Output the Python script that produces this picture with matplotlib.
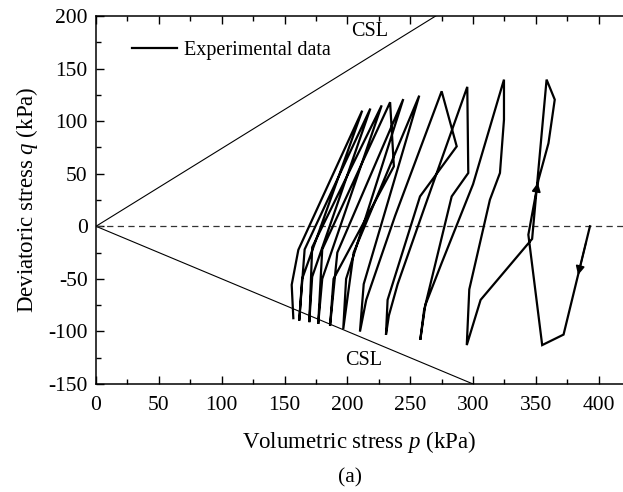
import matplotlib
matplotlib.use("Agg")
import matplotlib.pyplot as plt
import numpy as np
from matplotlib.lines import Line2D
from matplotlib.ticker import MultipleLocator

plt.rcParams['font.family'] = ['Liberation Serif', 'DejaVu Serif']
plt.rcParams['mathtext.fontset'] = 'custom'
plt.rcParams['mathtext.rm'] = 'Liberation Serif'
plt.rcParams['mathtext.it'] = 'Liberation Serif:italic'
plt.rcParams['axes.unicode_minus'] = False

# stress path of the cyclic test (p, q in kPa), in loading order
p_path = [393, 372, 355,
          344, 352, 360, 365, 358.5,
          347, 306, 295,
          297, 313.4, 321.4, 324.6, 324.6,
          300, 275, 262, 258,
          261, 283, 296.2, 295.4,
          262, 240, 233, 230.7,
          232, 257.8, 287, 275,
          238, 215, 210,
          213, 257.2,
          205, 196.7,
          199, 244.5,
          192, 186.2,
          189, 237, 234,
          180, 176.8,
          180, 227.3,
          172, 169.7,
          172, 218.3,
          166, 161.7,
          164, 211.8,
          161, 155.7, 157]
q_path = [0, -103, -113,
          -8, 44, 79, 120.5, 139.5,
          -12, -70, -113,
          -60, 25.2, 50.7, 101.4, 139.5,
          40, -35, -75, -108,
          -80, 28.4, 50.7, 132.6,
          20, -55, -85, -103.3,
          -70, 28.4, 76, 128.4,
          10, -70, -100.2,
          -55, 124.3,
          -25, -97.9,
          -50, 121,
          -25, -94.8,
          -50, 57, 118,
          -22, -92.9,
          -50, 115,
          -20, -91.2,
          -48, 112,
          -22, -89.7,
          -50, 110,
          -22.4, -55.7, -87.4]

# critical state line slopes (compression / extension)
M_comp = 0.74
M_ext = -0.5
p_csl = np.array([0, 420])

fig = plt.figure(figsize=(6.23, 4.92), dpi=100)
ax = fig.add_axes([96/623, 1 - 384/492, 527/623, 368/492])

ax.plot(p_csl, M_comp * p_csl, color='black', lw=0.8)
ax.plot(p_csl, M_ext * p_csl, color='black', lw=0.8)
ax.axhline(0, color='#333333', lw=0.9, ls=(0, (5, 3.5)))
ax.plot(p_path, q_path, color='black', lw=1.6, solid_joinstyle='miter')

# direction arrows on the first two segments of the path
pp = np.array(p_path, dtype=float)
qq = np.array(q_path, dtype=float)
for i, frac in [(0, 0.45), (3, 0.95)]:
    tail = (pp[i] + (frac - 0.3) * (pp[i+1] - pp[i]), qq[i] + (frac - 0.3) * (qq[i+1] - qq[i]))
    tip = (pp[i] + frac * (pp[i+1] - pp[i]), qq[i] + frac * (qq[i+1] - qq[i]))
    ax.annotate('', xy=tip, xytext=tail,
                arrowprops=dict(arrowstyle='-|>', color='black', lw=1.2,
                                mutation_scale=13, shrinkA=0, shrinkB=0))

ax.text(218, 185, 'CSL', fontsize=14.5, ha='center', va='center')
ax.text(213, -128, 'CSL', fontsize=14.5, ha='center', va='center')

handle = Line2D([], [], color='black', lw=1.6)
ax.legend([handle], ['Experimental data'], loc='center left',
          bbox_to_anchor=(0.0677, 0.9076), frameon=False, fontsize=14.5,
          borderpad=0, borderaxespad=0, handlelength=2.25, handletextpad=0.35)

ax.set_xlim(0, 419.3)
ax.set_ylim(-150, 200)
ax.xaxis.set_major_locator(MultipleLocator(50))
ax.xaxis.set_minor_locator(MultipleLocator(25))
ax.yaxis.set_major_locator(MultipleLocator(50))
ax.yaxis.set_minor_locator(MultipleLocator(25))
ax.tick_params(which='both', direction='in', top=True, right=False, width=1)
ax.tick_params(which='major', length=6, labelsize=15.5)
ax.tick_params(axis='x', which='major', pad=9)
ax.tick_params(axis='y', which='major', pad=6)
ax.tick_params(which='minor', length=3.5)
ax.spines['right'].set_visible(False)
for s in ['left', 'top', 'bottom']:
    ax.spines[s].set_linewidth(1.1)

ax.set_xlabel('Volumetric stress $p$ (kPa)', fontsize=16.5, labelpad=10)
ax.set_ylabel('Deviatoric stress $q$ (kPa)', fontsize=16.5, labelpad=6)
fig.text(350/623, 1 - 478/492, '(a)', fontsize=15.5, ha='center', va='center')

fig.savefig('out.png', dpi=100)
